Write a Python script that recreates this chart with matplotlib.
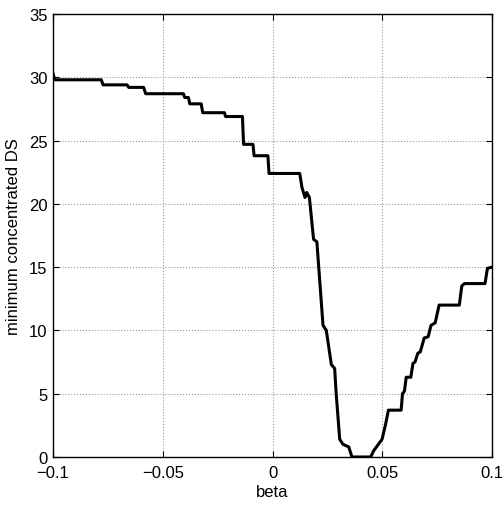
import matplotlib
matplotlib.use("Agg")
import matplotlib.pyplot as plt

plt.rcParams['font.family'] = ['Liberation Sans', 'DejaVu Sans']

# values
beta = [-0.1, -0.0992, -0.0780, -0.0772, -0.0663, -0.0655, -0.0587, -0.0578,
        -0.0406, -0.0400, -0.0383, -0.0377, -0.0325, -0.0318, -0.0219, -0.0214,
        -0.0137, -0.0132, -0.0089, -0.0084, -0.0021, -0.0016, 0.0124, 0.0134,
        0.0148, 0.0156, 0.0168, 0.0187, 0.0202, 0.0230, 0.0245, 0.0268,
        0.0283, 0.0290, 0.0306, 0.0321, 0.0347, 0.0362, 0.0447, 0.0461,
        0.0499, 0.0514, 0.0528, 0.0586, 0.0592, 0.0601, 0.0609, 0.0630,
        0.0640, 0.0649, 0.0662, 0.0673, 0.0691, 0.0709, 0.0722, 0.0741,
        0.0759, 0.0851, 0.0862, 0.0874, 0.0968, 0.0979, 0.1]
min_ds = [30.3, 29.8, 29.8, 29.4, 29.4, 29.2, 29.2, 28.7,
          28.7, 28.4, 28.4, 27.9, 27.9, 27.2, 27.2, 26.9,
          26.9, 24.7, 24.7, 23.8, 23.8, 22.4, 22.4, 21.3,
          20.5, 20.9, 20.5, 17.2, 17.0, 10.4, 10.0, 7.3,
          7.0, 5.0, 1.4, 1.0, 0.8, 0.0, 0.0, 0.5,
          1.4, 2.5, 3.7, 3.7, 5.0, 5.2, 6.3, 6.3,
          7.4, 7.5, 8.2, 8.3, 9.4, 9.5, 10.4, 10.6,
          12.0, 12.0, 13.5, 13.7, 13.7, 14.9, 15.0]

xticks = [-0.1, -0.05, 0, 0.05, 0.1]
xticklabels = ['\u22120.1', '\u22120.05', '0', '0.05', '0.1']
yticks = [0, 5, 10, 15, 20, 25, 30, 35]

fig = plt.figure(figsize=(5.03, 5.06), dpi=100)
ax = fig.add_axes([0.1054, 0.0949, 0.8728, 0.8755])

ax.plot(beta, min_ds, color='black', linewidth=2.2)

ax.set_xlim(-0.1, 0.1)
ax.set_ylim(0, 35)
ax.set_xticks(xticks)
ax.set_xticklabels(xticklabels)
ax.set_yticks(yticks)
ax.tick_params(direction='in', top=True, right=True, labelsize=12, length=4)
ax.tick_params(axis='x', pad=6)
ax.tick_params(axis='y', pad=4)
ax.grid(True, linestyle=':', color='#999999', linewidth=0.8)
for s in ax.spines.values():
    s.set_linewidth(1.0)

ax.set_xlabel('beta', fontsize=12, labelpad=3)
ax.set_ylabel('minimum concentrated DS', fontsize=12, labelpad=6)

fig.savefig('out.png', dpi=100)
